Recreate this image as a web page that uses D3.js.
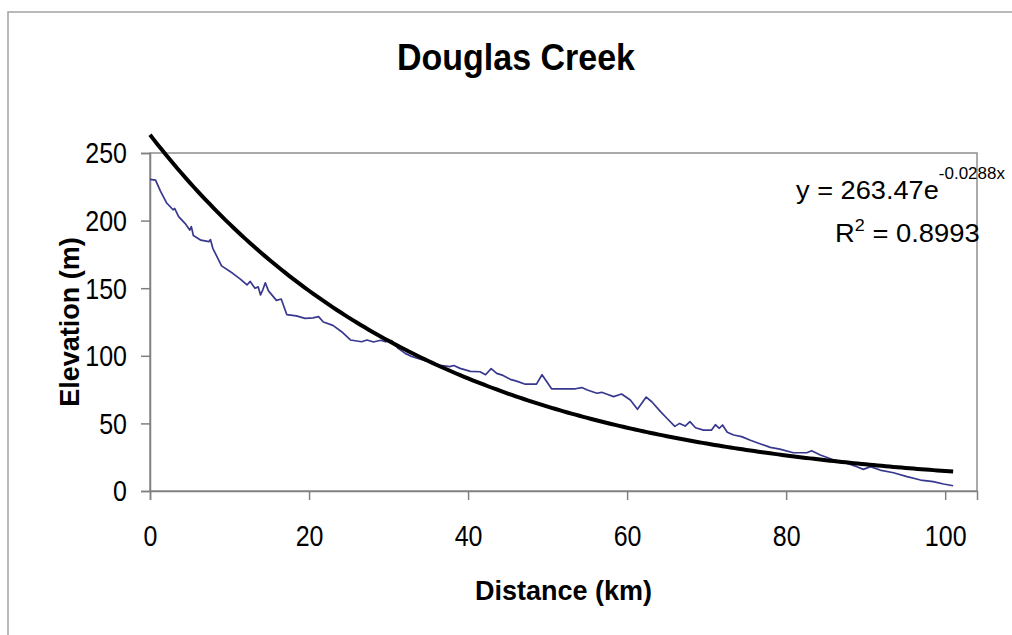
<!DOCTYPE html>
<html>
<head>
<meta charset="utf-8">
<script src="https://cdn.jsdelivr.net/npm/d3@7"></script>
<style>
  body { margin: 0; background: #fff; }
  svg { display: block; font-family: "Liberation Sans", Arial, sans-serif; }
</style>
</head>
<body>
<div id="chart"></div>
<script>
// profile: distance along the creek (km) and bed elevation (m)
var distanceKm = [0, 0.7, 1.3, 2.1, 2.9, 3.1, 3.6, 4.4, 5.0, 5.2, 5.45, 6.4, 7.4, 7.6, 7.9, 9.0, 10.4, 11.4,
  12.2, 12.6, 13.2, 13.6, 13.9, 14.2, 14.5, 14.9, 15.9, 16.5, 17.2, 18.4, 19.5, 20.5, 21.2, 21.8, 23.0, 24.1,
  25.2, 26.6, 27.3, 28.1, 29.0, 29.6, 30.4, 31.2, 32.1, 32.9, 34.0, 35.5, 36.5, 37.7, 38.2, 39.0, 40.3, 41.5,
  42.2, 42.9, 43.6, 44.4, 45.3, 46.1, 47.2, 48.6, 49.3, 49.9, 50.5, 52.0, 53.5, 54.3, 55.0, 56.2, 56.8, 57.4,
  58.3, 59.3, 60.4, 61.3, 62.4, 63.1, 64.2, 65.0, 66.0, 66.6, 67.3, 67.9, 68.6, 69.6, 70.6, 71.1, 71.6, 72.0,
  72.6, 73.4, 74.4, 75.5, 76.7, 78.0, 79.2, 80.9, 82.6, 83.2, 84.3, 86.0, 87.6, 88.9, 89.7, 90.6, 91.8, 93.5,
  95.2, 96.9, 98.5, 99.8, 101.0];
var elevationM = [230.5, 230, 222, 213, 208, 209, 203, 198, 193, 195.5, 189, 185.5, 184.4, 186, 179.5, 166.5, 161, 156.5,
  152.4, 155, 150, 151, 145, 149, 154, 148, 141, 142, 130.5, 129.5, 127.7, 128, 129, 125, 122.5, 117.8,
  111.7, 110.4, 111.7, 110.2, 111.5, 110.4, 111.2, 105.5, 101.8, 99.5, 97.5, 95, 93, 92, 92.8, 90.7, 88.5, 88.2,
  86, 90.5, 87, 85.5, 82.6, 81.3, 79, 79, 86, 80.8, 75.6, 75.6, 75.6, 76.5, 74.7, 72.3, 73, 71.7,
  69.8, 71.7, 67.3, 60.4, 69.5, 66, 58.7, 53.8, 47.8, 50, 48, 51.3, 46.8, 45, 45, 49, 46.4, 48.8,
  43.5, 41.4, 40.2, 37.5, 35, 32.3, 31, 28.3, 28.3, 29.8, 26.6, 22.9, 20.5, 18, 16, 18, 15.5, 13.5,
  10.6, 8.1, 6.9, 5.2, 3.9];
var xTicks = [0, 20, 40, 60, 80, 100];
var yTicks = [0, 50, 100, 150, 200, 250];
// exponential trendline as printed on the chart
var trendA = 263.47, trendB = -0.0288, trendEnd = 101;

var width = 1012, height = 635;
var plot = { left: 150, right: 977, top: 153, bottom: 491 };

var svg = d3.select('#chart').append('svg')
    .attr('width', width)
    .attr('height', height);

// outer chart frame (runs off the right and bottom edge)
svg.append('rect')
    .attr('x', 8).attr('y', 12)
    .attr('width', 1030).attr('height', 640)
    .attr('fill', 'none')
    .attr('stroke', '#a3a3a3')
    .attr('stroke-width', 1.5);

var x = d3.scaleLinear().domain([0, 104]).range([plot.left, plot.right]);
var y = d3.scaleLinear().domain([0, 250]).range([plot.bottom, plot.top]);

// plot area border
svg.append('rect')
    .attr('x', plot.left).attr('y', plot.top)
    .attr('width', plot.right - plot.left)
    .attr('height', plot.bottom - plot.top)
    .attr('fill', 'none')
    .attr('stroke', '#8f8f8f')
    .attr('stroke-width', 1.5);

var yAxis = svg.append('g')
    .attr('transform', 'translate(' + plot.left + ',0)')
    .call(d3.axisLeft(y).tickValues(yTicks).tickSize(9).tickPadding(14));
yAxis.selectAll('text')
    .attr('font-size', 25)
    .attr('dy', '0.34em')
    .attr('transform', 'scale(1,1.17)');

var xAxis = svg.append('g')
    .attr('transform', 'translate(0,' + plot.bottom + ')')
    .call(d3.axisBottom(x).tickValues(xTicks).tickSize(9));
xAxis.selectAll('text')
    .attr('font-size', 25)
    .attr('y', 0).attr('dy', 0)
    .attr('transform', 'translate(0,55) scale(1,1.17)');

[yAxis, xAxis].forEach(function(a) {
    a.select('.domain').attr('stroke', '#808080').attr('stroke-width', 1.5);
    a.selectAll('.tick line').attr('stroke', '#808080').attr('stroke-width', 1.5);
    a.selectAll('text').attr('fill', '#000').attr('font-family', '"Liberation Sans", Arial, sans-serif');
});

// river profile
var profile = distanceKm.map(function(d, i) { return [d, elevationM[i]]; });
svg.append('path')
    .datum(profile)
    .attr('fill', 'none')
    .attr('stroke', '#38388e')
    .attr('stroke-width', 1.7)
    .attr('stroke-linejoin', 'round')
    .attr('d', d3.line()
        .x(function(d) { return x(d[0]); })
        .y(function(d) { return y(d[1]); }));

// trendline
var trend = d3.range(0, trendEnd + 0.001, 0.5).map(function(d) {
    return [d, trendA * Math.exp(trendB * d)];
});
svg.append('path')
    .datum(trend)
    .attr('fill', 'none')
    .attr('stroke', '#000')
    .attr('stroke-width', 4)
    .attr('d', d3.line()
        .x(function(d) { return x(d[0]); })
        .y(function(d) { return y(d[1]); }));

// title and axis titles
svg.append('text')
    .attr('transform', 'translate(516,70) scale(1,1.1)')
    .attr('text-anchor', 'middle')
    .attr('font-size', 34)
    .attr('font-weight', 'bold')
    .text('Douglas Creek');

svg.append('text')
    .attr('x', (plot.left + plot.right) / 2).attr('y', 600)
    .attr('text-anchor', 'middle')
    .attr('font-size', 27)
    .attr('font-weight', 'bold')
    .text('Distance (km)');

svg.append('text')
    .attr('transform', 'translate(79,' + (plot.top + plot.bottom) / 2 + ') rotate(-90)')
    .attr('text-anchor', 'middle')
    .attr('font-size', 27)
    .attr('font-weight', 'bold')
    .text('Elevation (m)');

// trendline label
var eq1 = svg.append('text')
    .attr('transform', 'translate(796,199) scale(1,0.93)')
    .attr('font-size', 27.2);
eq1.append('tspan').text('y = ' + trendA + 'e');
eq1.append('tspan').attr('font-size', 17).attr('dy', -21).text(trendB + 'x');

var eq2 = svg.append('text')
    .attr('transform', 'translate(835,242) scale(1,0.93)')
    .attr('font-size', 27.4);
eq2.append('tspan').text('R');
eq2.append('tspan').attr('font-size', 18).attr('dy', -12).text('2');
eq2.append('tspan').attr('dy', 12).text(' = 0.8993');
</script>
</body>
</html>
